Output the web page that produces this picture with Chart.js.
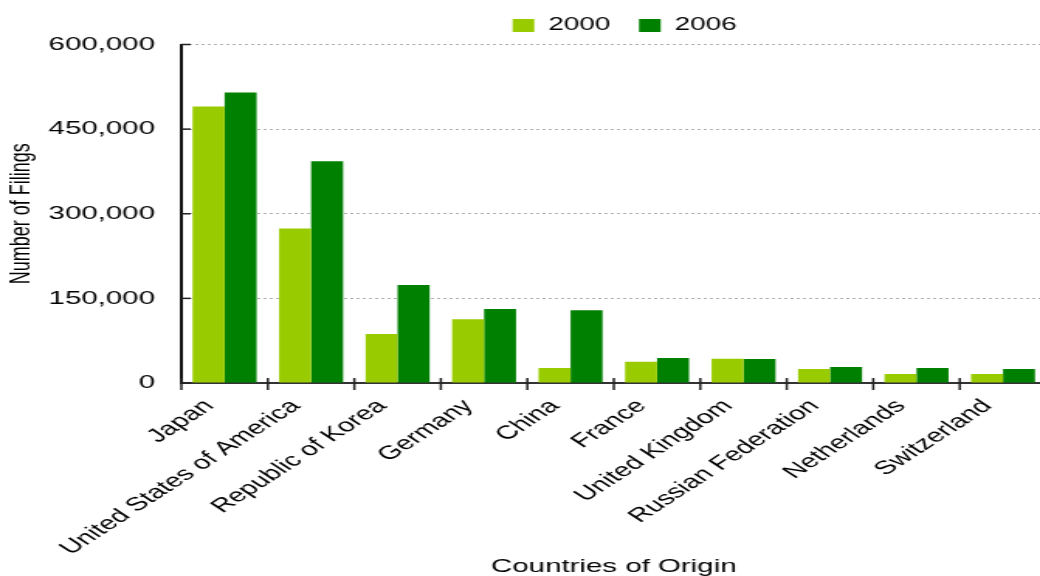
<!DOCTYPE html>
<html>
<head>
<meta charset="utf-8">
<script src="https://cdn.jsdelivr.net/npm/chart.js@4"></script>
<style>
  html, body { margin: 0; padding: 0; width: 1040px; height: 576px; overflow: hidden; background: #fff; }
  #wrap { position: absolute; left: 0; top: 0; width: 675px; height: 576px; transform: scaleX(1.55); transform-origin: 0 0; }
</style>
</head>
<body>
<div id="wrap"><canvas id="c"></canvas></div>
<script>
const categories = ["Japan", "United States of America", "Republic of Korea", "Germany", "China", "France", "United Kingdom", "Russian Federation", "Netherlands", "Switzerland"];
const seriesNames = ["2000", "2006"];
const filings2000 = [490000, 274000, 87000, 113000, 26500, 37500, 42800, 25000, 16000, 16000];
const filings2006 = [515000, 393000, 173500, 131000, 129000, 44500, 42500, 28500, 26500, 25000];
const yTickValues = [0, 150000, 300000, 450000, 600000];
const colors = ["#99CC00", "#008000"];
const FONT = "'Liberation Sans', Arial, sans-serif";

const innerTicks = {
  id: 'innerTicks',
  afterLayout(chart) {
    if (chart.legend) { chart.legend.left += 7; chart.legend.right += 7; }
  },
  afterDraw(chart) {
    const { ctx, chartArea } = chart;
    const xs = chart.scales.x, ys = chart.scales.y;
    ctx.save();
    ctx.strokeStyle = '#222';
    ctx.lineWidth = 1.5;
    ys.ticks.forEach((t, i) => {
      const py = ys.getPixelForTick(i);
      ctx.beginPath();
      ctx.moveTo(chartArea.left, py);
      ctx.lineTo(chartArea.left + 6, py);
      ctx.stroke();
    });
    for (let i = 0; i <= categories.length; i++) {
      const px = xs.getPixelForValue(i - 0.5);
      ctx.beginPath();
      ctx.moveTo(px, chartArea.bottom - 5);
      ctx.lineTo(px, chartArea.bottom + 7);
      ctx.stroke();
    }
    ctx.restore();
  }
};

new Chart(document.getElementById('c'), {
  type: 'bar',
  data: {
    labels: categories,
    datasets: [
      { label: seriesNames[0], data: filings2000, backgroundColor: colors[0], borderWidth: 0 },
      { label: seriesNames[1], data: filings2006, backgroundColor: colors[1], borderWidth: 0 }
    ]
  },
  options: {
    responsive: true,
    maintainAspectRatio: false,
    animation: false,
    categoryPercentage: 0.74,
    barPercentage: 1.0,
    layout: { padding: { top: -2, left: 0, right: 0, bottom: 0 } },
    plugins: {
      legend: {
        display: true,
        position: 'top',
        fullSize: false,
        labels: {
          boxWidth: 14,
          boxHeight: 13,
          padding: 18.5,
          color: '#000',
          font: { family: FONT, size: 18 }
        }
      },
      tooltip: { enabled: false }
    },
    scales: {
      x: {
        grid: { display: false },
        border: { display: true, color: '#333', width: 2 },
        ticks: {
          maxRotation: 45, minRotation: 45,
          color: '#000', padding: 4, labelOffset: -10,
          font: { family: FONT, size: 19 }
        },
        title: {
          display: true, text: 'Countries of Origin', color: '#000',
          font: { family: FONT, size: 19, lineHeight: 1.0 },
          padding: { top: 0, bottom: 0 }
        },
        afterFit(s) { s.height = 193; }
      },
      y: {
        min: 0, max: 600000,
        afterBuildTicks(s) { s.ticks = yTickValues.map(v => ({ value: v })); },
        grid: { color: '#b0b0b0', lineWidth: 1, drawTicks: false },
        border: { display: true, color: '#111', width: 2, dash: [2, 2] },
        ticks: {
          color: '#000', padding: 17,
          font: { family: FONT, size: 19 },
          callback: v => v.toLocaleString('en-US')
        },
        title: {
          display: true, text: 'Number of Filings', color: '#000',
          font: { family: FONT, size: 18 },
          padding: { top: 3, bottom: 0 }
        },
        afterFit(s) { s.width = 117; }
      }
    }
  },
  plugins: [innerTicks]
});
</script>
</body>
</html>
